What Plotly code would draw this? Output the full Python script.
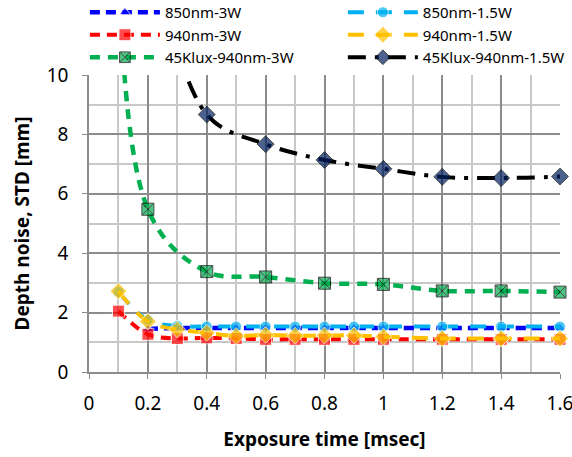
import plotly.graph_objects as go

x_full = [0.1, 0.2, 0.3, 0.4, 0.5, 0.6, 0.7, 0.8, 0.9, 1.0, 1.2, 1.4, 1.6]
x_from02 = [0.2, 0.3, 0.4, 0.5, 0.6, 0.7, 0.8, 0.9, 1.0, 1.2, 1.4, 1.6]
x_coarse = [0.1, 0.2, 0.4, 0.6, 0.8, 1.0, 1.2, 1.4, 1.6]
x_black = [0.2, 0.4, 0.6, 0.8, 1.0, 1.2, 1.4, 1.6]

y_850_3w = [1.45, 1.48, 1.48, 1.48, 1.48, 1.48, 1.48, 1.48, 1.48, 1.48, 1.48, 1.48]
y_850_15w = [2.7, 1.75, 1.55, 1.53, 1.53, 1.53, 1.53, 1.53, 1.53, 1.53, 1.53, 1.53, 1.53]
y_940_3w = [2.05, 1.27, 1.13, 1.15, 1.13, 1.1, 1.1, 1.1, 1.1, 1.1, 1.1, 1.1, 1.1]
y_940_15w = [2.72, 1.7, 1.43, 1.32, 1.21, 1.25, 1.22, 1.23, 1.23, 1.19, 1.13, 1.13, 1.13]
y_klux_3w = [24.0, 5.48, 3.38, 3.2, 2.99, 2.95, 2.73, 2.73, 2.69]
y_klux_15w = [15.0, 8.67, 7.67, 7.14, 6.84, 6.57, 6.53, 6.58]

YMAX = 10

def msize(ys, s):
    return [0 if v > YMAX else s for v in ys]

fig = go.Figure()

fig.add_trace(go.Scatter(
    x=x_from02, y=y_850_3w, name="850nm-3W", mode="lines+markers", line_shape="spline",
    line=dict(color="#0000FF", width=4.5, dash="10px,6px"),
    marker=dict(symbol="triangle-up", size=msize(y_850_3w, 10), color="#0000FF"),
    cliponaxis=False, legend="legend"))
fig.add_trace(go.Scatter(
    x=x_full, y=y_850_15w, name="850nm-1.5W", mode="lines+markers", line_shape="spline",
    line=dict(color="#00B0F0", width=4, dash="16px,12px"),
    marker=dict(symbol="circle", size=msize(y_850_15w, 11), color="#00B0F0"),
    cliponaxis=False, legend="legend2"))
fig.add_trace(go.Scatter(
    x=x_full, y=y_940_3w, name="940nm-3W", mode="lines+markers", line_shape="spline",
    line=dict(color="#FF0000", width=4, dash="10px,7px"),
    marker=dict(symbol="square", size=msize(y_940_3w, 12), color="#FF0000"),
    cliponaxis=False, legend="legend"))
fig.add_trace(go.Scatter(
    x=x_full, y=y_940_15w, name="940nm-1.5W", mode="lines+markers", line_shape="spline",
    line=dict(color="#FFC000", width=4, dash="16px,12px"),
    marker=dict(symbol="diamond", size=msize(y_940_15w, 13), color="#FFC000"),
    cliponaxis=False, legend="legend2"))
fig.add_trace(go.Scatter(
    x=x_coarse, y=y_klux_3w, name="45Klux-940nm-3W", mode="lines+markers", line_shape="spline",
    line=dict(color="#00B050", width=4.5, dash="10px,8px"),
    marker=dict(symbol="square-x", size=msize(y_klux_3w, 12), color="#00B050",
                line=dict(color="#000000", width=1)),
    cliponaxis=False, legend="legend"))
fig.add_trace(go.Scatter(
    x=x_black, y=y_klux_15w, name="45Klux-940nm-1.5W", mode="lines+markers", line_shape="spline",
    line=dict(color="#000000", width=4, dash="18px,9px,4px,9px"),
    marker=dict(symbol="diamond", size=msize(y_klux_15w, 13), color="#002060",
                line=dict(color="#000000", width=1)),
    cliponaxis=False, legend="legend2"))

font_family = "Noto Sans, Open Sans, DejaVu Sans, sans-serif"

fig.update_layout(
    width=572, height=457,
    margin=dict(l=89, r=12, t=75, b=85, autoexpand=False),
    paper_bgcolor="white", plot_bgcolor="white",
    font=dict(family=font_family, size=15, color="#000000"),
    showlegend=True,
    legend=dict(x=-0.0087, y=1.266, xanchor="left", yanchor="top", orientation="v",
                font=dict(size=15), tracegroupgap=0, itemwidth=70,
                bgcolor="rgba(0,0,0,0)"),
    legend2=dict(x=0.539, y=1.266, xanchor="left", yanchor="top", orientation="v",
                 font=dict(size=15), tracegroupgap=0, itemwidth=70,
                 bgcolor="rgba(0,0,0,0)"),
)

fig.update_xaxes(
    range=[0, 1.6], tickmode="array",
    tickvals=[0, 0.2, 0.4, 0.6, 0.8, 1.0, 1.2, 1.4, 1.6],
    ticktext=["0", "0.2", "0.4", "0.6", "0.8", "1", "1.2", "1.4", "1.6"],
    ticklabeloverflow="allow",
    showgrid=True, gridcolor="#8C8C8C", gridwidth=1.5,
    minor=dict(dtick=0.1, showgrid=True, gridcolor="#C8C8C8", gridwidth=1.5, ticks=""),
    showline=True, linecolor="#8C8C8C", linewidth=1.5,
    ticks="outside", ticklen=5, tickcolor="#8C8C8C", ticklabelstandoff=8,
    tickfont=dict(size=19), zeroline=False,
    title=dict(text="<b>Exposure time [msec]</b>", font=dict(size=19), standoff=18),
)
fig.update_yaxes(
    range=[0, 10], tickmode="array",
    tickvals=[0, 2, 4, 6, 8, 10],
    showgrid=True, gridcolor="#8C8C8C", gridwidth=1.5,
    minor=dict(dtick=1, showgrid=True, gridcolor="#C8C8C8", gridwidth=1.5, ticks=""),
    showline=True, linecolor="#8C8C8C", linewidth=1.5,
    ticks="outside", ticklen=5, tickcolor="#8C8C8C", ticklabelstandoff=10,
    tickfont=dict(size=19), zeroline=False,
    title=dict(text="<b>Depth noise, STD [mm]</b>", font=dict(size=19), standoff=12),
)

fig.write_html("out.html")
